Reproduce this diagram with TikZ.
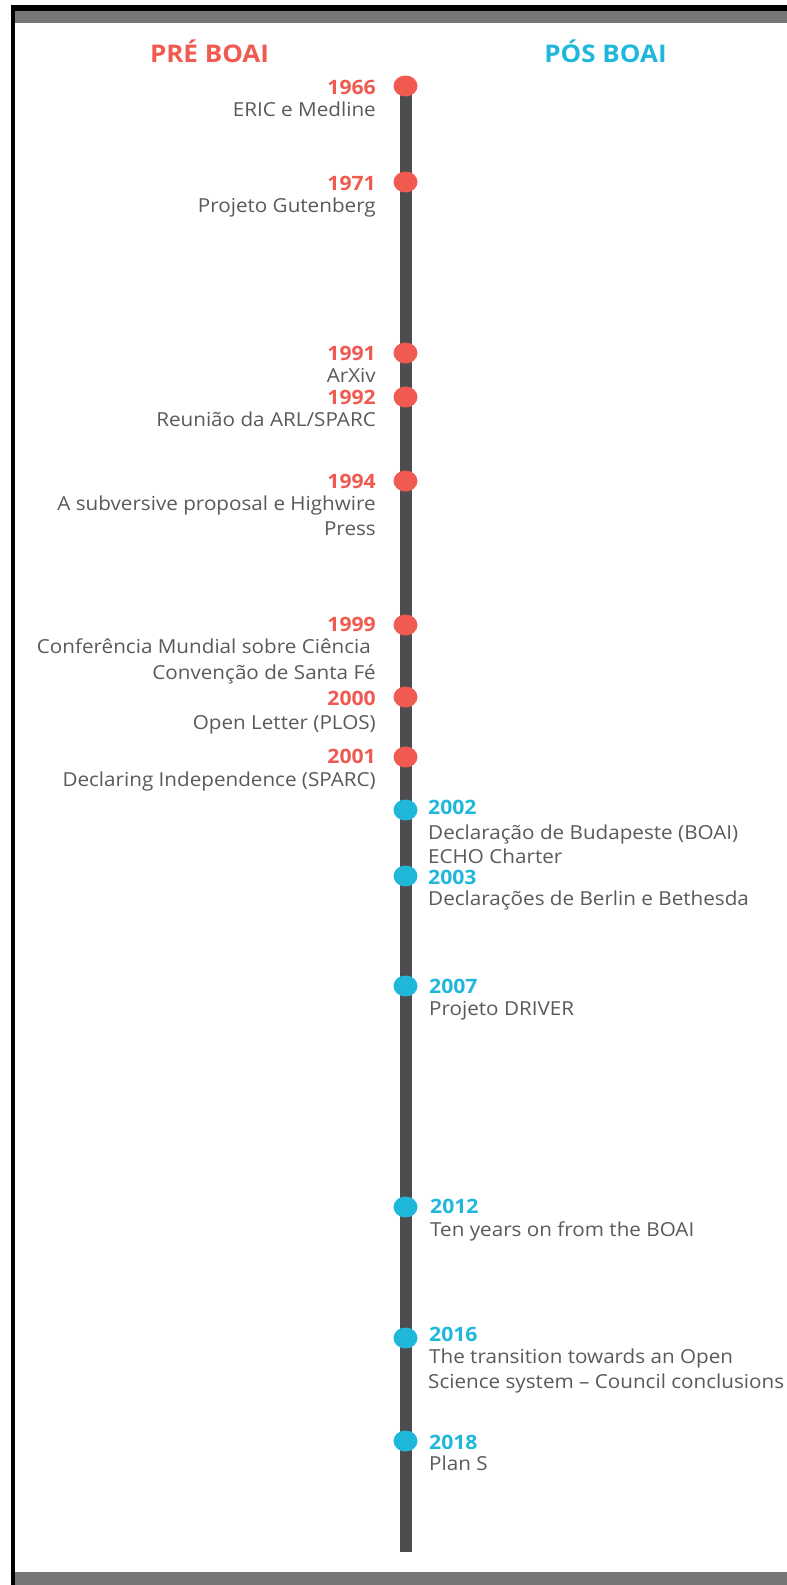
\documentclass[tikz,border=0pt]{standalone}
\usepackage{fontspec}
\setmainfont{Open Sans}[FakeStretch=1.07]
\usetikzlibrary{shapes.geometric}
\definecolor{coral}{HTML}{F05A50}
\definecolor{sky}{HTML}{1FB8DB}
\definecolor{txtgray}{HTML}{5A5A5A}
\definecolor{bargray}{HTML}{4D4D4F}
\definecolor{framegray}{HTML}{767676}
\begin{document}
\begin{tikzpicture}[x=1pt,y=-1pt,
  reddot/.style={ellipse,fill=coral,minimum width=24pt,minimum height=21pt,inner sep=0pt},
  bluedot/.style={ellipse,fill=sky,minimum width=24pt,minimum height=21pt,inner sep=0pt},
  lyear/.style={anchor=base east,inner sep=0pt,text=coral,font=\fontsize{19.8}{23}\selectfont\bfseries},
  ryear/.style={anchor=base west,inner sep=0pt,text=sky,font=\fontsize{19.8}{23}\selectfont\bfseries},
  ltxt/.style={anchor=base east,inner sep=0pt,text=txtgray,font=\fontsize{19.3}{25}\selectfont},
  rtxt/.style={anchor=base west,inner sep=0pt,text=txtgray,font=\fontsize{19.3}{25}\selectfont},
  title/.style={anchor=base,inner sep=0pt,font=\fontsize{24.3}{30}\selectfont\bfseries},
  bar/.style={draw=bargray,line width=12pt}]
\useasboundingbox[fill=white] (0,0) rectangle (787,1585);
% frame
\fill[black] (11,5) rectangle (787,11);
\fill[black] (11,5) rectangle (15,1585);
\fill[framegray] (15,11) rectangle (787,23);
\fill[framegray] (15,1572) rectangle (787,1585);
% titles
\node[title,text=coral] (tpre) at (209.5,62) {PRÉ BOAI};
\node[title,text=sky] (tpos) at (605.5,62) {PÓS BOAI};
% bar
\coordinate (bartop) at (406,86);
\coordinate (barend) at (406,1552);
\draw[bar] (bartop) -- (barend);
% left (pre) events
\node[reddot] (d1966) at (405.5,86) {};
\node[lyear] (y1966) at (376,94) {1966};
\node[ltxt] (t1966) at (376,116) {ERIC e Medline};
\node[reddot] (d1971) at (405.5,182) {};
\node[lyear] (y1971) at (376,190) {1971};
\node[ltxt] (t1971) at (376,212) {Projeto Gutenberg};
\node[reddot] (d1991) at (405.5,353) {};
\node[lyear] (y1991) at (376,360) {1991};
\node[ltxt] (t1991) at (376,382) {ArXiv};
\node[reddot] (d1992) at (405.5,397) {};
\node[lyear] (y1992) at (376,404) {1992};
\node[ltxt] (t1992) at (376,426) {Reunião da ARL/SPARC};
\node[reddot] (d1994) at (405.5,481) {};
\node[lyear] (y1994) at (376,488) {1994};
\node[ltxt] (t1994a) at (376,510) {A subversive proposal e Highwire};
\node[ltxt] (t1994b) at (376,535) {Press};
\node[reddot] (d1999) at (405.5,625) {};
\node[lyear] (y1999) at (376,631) {1999};
\node[ltxt] (t1999a) at (376,653) {Conferência Mundial sobre Ciência\kern5pt};
\node[ltxt] (t1999b) at (376,679) {Convenção de Santa Fé};
\node[reddot] (d2000) at (405.5,697) {};
\node[lyear] (y2000) at (376,705) {2000};
\node[ltxt] (t2000) at (376,729) {Open Letter (PLOS)};
\node[reddot] (d2001) at (405.5,757) {};
\node[lyear] (y2001) at (376,763) {2001};
\node[ltxt] (t2001) at (376,786) {Declaring Independence (SPARC)};
% right (post) events
\node[bluedot] (d2002) at (405.5,810) {};
\node[ryear] (y2002) at (428,814) {2002};
\node[rtxt] (t2002a) at (428,839) {Declaração de Budapeste (BOAI)};
\node[rtxt] (t2002b) at (428,863) {ECHO Charter};
\node[bluedot] (d2003) at (405.5,876) {};
\node[ryear] (y2003) at (428,884) {2003};
\node[rtxt] (t2003) at (428,905) {Declarações de Berlin e Bethesda};
\node[bluedot] (d2007) at (405.5,986) {};
\node[ryear] (y2007) at (429,993) {2007};
\node[rtxt] (t2007) at (429,1015) {Projeto DRIVER};
\node[bluedot] (d2012) at (405.5,1207) {};
\node[ryear] (y2012) at (430,1213) {2012};
\node[rtxt] (t2012) at (430,1236) {Ten years on from the BOAI};
\node[bluedot] (d2016) at (405.5,1338) {};
\node[ryear] (y2016) at (429,1341) {2016};
\node[rtxt] (t2016a) at (429,1363) {The transition towards an Open};
\node[rtxt] (t2016b) at (428,1388) {Science system – Council conclusions};
\node[bluedot] (d2018) at (405.5,1441) {};
\node[ryear] (y2018) at (429,1449) {2018};
\node[rtxt] (t2018) at (429,1470) {Plan S};
\end{tikzpicture}
\end{document}
